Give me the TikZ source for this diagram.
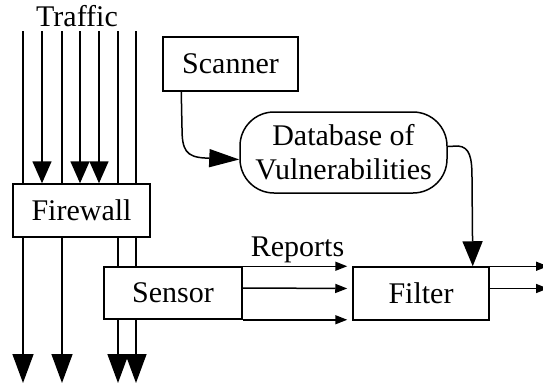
\documentclass[tikz,border=0pt]{standalone}
\usepackage{fontspec}
\setmainfont{Liberation Serif}
\usetikzlibrary{calc,arrows.meta}
\definecolor{idsInk}{HTML}{000000}

\begin{document}
\begin{tikzpicture}[
    x=1pt,y=-1pt,
    >={Triangle[length=22pt,width=19pt]},
    line width=1.5pt,
    idsInk,
    every node/.style={font=\fontsize{30}{35}\selectfont},
    box/.style={draw,inner sep=0pt},
    exit/.style={-{Triangle[length=29pt,width=21pt]}},
    feed/.style={-{Triangle[length=12pt,width=9pt]}},
  ]
  \useasboundingbox (0,0) rectangle (543,383);

  % Components
  \node[box,minimum width=137pt,minimum height=53pt] (fw) at (81.5,210.5) {Firewall};
  \node[box,minimum width=138pt,minimum height=52pt] (sensor) at (173,293) {Sensor};
  \node[box,minimum width=136pt,minimum height=53pt] (filter) at (421,293.5) {Filter};
  \node[box,minimum width=135pt,minimum height=54pt] (scanner) at (230.5,64) {Scanner};
  \node[box,rounded corners=34pt,minimum width=207pt,minimum height=81pt,align=center]
    (db) at (343.5,152.5) {Database of\\[-1pt]Vulnerabilities};
  \node (traffic) at (77,16) {Traffic};

  % Traffic lines
  \coordinate (bot) at (0,383);
  \foreach \x [count=\i] in {23,42,62,80,99,118,136}
    \coordinate (t\i) at (\x,31);
  \foreach \i in {2,4,5}
    \draw[->] (t\i) -- (t\i |- fw.north);
  \foreach \i in {1,3} {
    \draw (t\i) -- (t\i |- fw.north);
    \draw[exit] (t\i |- fw.south) -- (t\i |- bot);
  }
  \foreach \i in {6,7} {
    \draw (t\i) -- (t\i |- fw.north);
    \draw (t\i |- fw.south) -- (t\i |- sensor.north);
    \draw[exit] (t\i |- sensor.south) -- (t\i |- bot);
  }

  % Reports
  \draw[feed,shorten >=5pt] (sensor.north east) -- (sensor.north east -| filter.west)
    node[midway,above=-1pt] {Reports};
  \draw[feed,shorten >=5pt] ([yshift=5pt]sensor.east) -- ([yshift=5pt]filter.west);
  \draw[feed,shorten >=5pt] (sensor.south east) -- (sensor.south east -| filter.west);

  % Filter output
  \coordinate (out) at (548,0);
  \draw[feed] (filter.north east) -- (filter.north east -| out);
  \draw[feed] ([yshift=5pt]filter.east) -- ([yshift=5pt]filter.east -| out);

  % Scanner and database
  \draw[-{Triangle[length=30pt,width=18pt]}] ([xshift=19pt]scanner.south west) -- (182,128)
    .. controls (182,150) and (186,157) .. (205,158) -- ([yshift=-7pt]db.west);
  \coordinate (fin) at ($(filter.north east)+(-17,0)$);
  \draw[-{Triangle[length=25pt,width=20pt]}] ([yshift=6pt]db.east) -- (458,146)
    .. controls (470,147) and (472,158) .. (472,178) -- (fin);
\end{tikzpicture}
\end{document}
